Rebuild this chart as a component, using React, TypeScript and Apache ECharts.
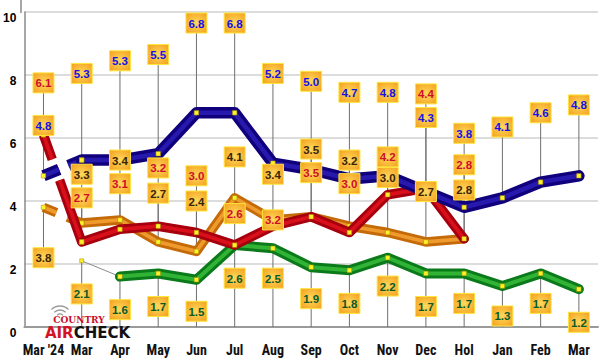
import React, { useEffect, useRef } from "react";
import * as echarts from "echarts";

// ---------- data ----------
const categories = ["Mar '24", "Mar", "Apr", "May", "Jun", "Jul", "Aug", "Sep", "Oct", "Nov", "Dec", "Hol", "Jan", "Feb", "Mar"];
const blue = [4.8, 5.3, 5.3, 5.5, 6.8, 6.8, 5.2, 5.0, 4.7, 4.8, 4.3, 3.8, 4.1, 4.6, 4.8];
const red = [6.1, 2.7, 3.1, 3.2, 3.0, 2.6, 3.2, 3.5, 3.0, 4.2, 4.4, 2.8, null, null, null];
const orange = [3.8, 3.3, 3.4, 2.7, 2.4, 4.1, 3.4, 3.5, 3.2, 3.0, 2.7, 2.8, null, null, null];
const green = [null, 2.1, 1.6, 1.7, 1.5, 2.6, 2.5, 1.9, 1.8, 2.2, 1.7, 1.7, 1.3, 1.7, 1.2];
const yTicks = [0, 2, 4, 6, 8, 10];

// ---------- label tag placement (axis units, layout only) ----------
const blueTag = [6.4, 8.05, 8.45, 8.65, 9.65, 9.65, 8.05, 7.8, 7.45, 7.45, 6.65, 6.15, 6.35, 6.8, 7.05];
const redTag = [7.75, 4.1, 4.55, 5.05, 4.8, 3.6, 3.4, 4.9, 4.55, 5.4, 7.4, 5.15, null, null, null];
const orangeTag = [2.2, 4.85, 5.3, 4.25, 4.0, 5.4, 4.85, 5.65, 5.3, 4.75, 4.3, 4.35, null, null, null];
const greenTag = [null, 1.05, 0.55, 0.65, 0.5, 1.55, 1.55, 0.9, 0.75, 1.3, 0.65, 0.75, 0.35, 0.75, 0.15];

type Look = {
  values: (number | null)[];
  tags: (number | null)[];
  base: string;
  light: string;
  text: string;
  width: number;
  z: number;
  lead: "thin" | number[];
  toAxis: boolean;
};

const LOOKS: Look[] = [
  { values: green, tags: greenTag, base: "#0b7a1b", light: "#38bd3a", text: "#0a5a28", width: 10, z: 2, lead: "thin", toAxis: true },
  { values: orange, tags: orangeTag, base: "#c56a08", light: "#f4a232", text: "#3a2406", width: 9.5, z: 3, lead: [14, 12, 200], toAxis: false },
  { values: red, tags: redTag, base: "#a6000e", light: "#e3121e", text: "#cf0f2a", width: 9.5, z: 4, lead: [26, 22, 300], toAxis: false },
  { values: blue, tags: blueTag, base: "#11007c", light: "#2b1db6", text: "#1212e8", width: 11.5, z: 5, lead: [17, 10, 200], toAxis: false },
];

const LABEL_FONT = '"Liberation Sans", Arial, sans-serif';

function buildOption() {
  const series: any[] = [];

  // leader lines
  const leaderData: number[][] = [];
  LOOKS.forEach((s) => {
    s.values.forEach((v, i) => {
      if (v == null) return;
      const t = s.tags[i];
      if (s.toAxis) leaderData.push([i, v, 0]);
      else if (t != null) leaderData.push([i, t, v]);
    });
  });
  series.push({
    type: "custom",
    z: 1,
    silent: true,
    data: leaderData,
    encode: { x: 0, y: [1, 2] },
    renderItem: (_p: any, api: any) => {
      const a = api.coord([api.value(0), api.value(1)]);
      const b = api.coord([api.value(0), api.value(2)]);
      return {
        type: "line",
        shape: { x1: a[0], y1: a[1], x2: b[0], y2: b[1] },
        style: { stroke: "#6f6f6f", lineWidth: 1 },
      };
    },
  });

  const marker = { color: "#fff22a", borderColor: "#9c8a00", borderWidth: 0.5 };

  LOOKS.forEach((s) => {
    const first = s.values.findIndex((v) => v != null);
    const start = first + 1;
    const lead = s.values.map((v, i) => (i <= start ? v : null));
    const main = s.values.map((v, i) => (i >= start ? v : null));

    if (s.lead === "thin") {
      series.push({
        type: "line", data: lead, z: s.z, silent: true,
        symbol: "rect", symbolSize: 4, showSymbol: true, itemStyle: marker,
        lineStyle: { color: "#8c8c8c", width: 1 },
      });
    } else {
      series.push({
        type: "line", data: lead, z: s.z, silent: true, symbol: "none",
        lineStyle: { color: s.base, width: s.width, type: s.lead, cap: "butt", join: "round" },
      });
      series.push({
        type: "line", data: lead, z: s.z, silent: true,
        symbol: "rect", symbolSize: 4.5, showSymbol: true, itemStyle: marker,
        lineStyle: { color: s.light, width: s.width * 0.4, type: s.lead, cap: "butt", join: "round", opacity: 0.85 },
      });
    }
    series.push({
      type: "line", data: main, z: s.z, silent: true, symbol: "none",
      lineStyle: { color: s.base, width: s.width, cap: "round", join: "round" },
    });
    series.push({
      type: "line", data: main, z: s.z, silent: true,
      symbol: "rect", symbolSize: 4.5, showSymbol: true, itemStyle: marker,
      lineStyle: { color: s.light, width: s.width * 0.4, cap: "round", join: "round", opacity: 0.85 },
    });
  });

  // value tags
  const tagData: number[][] = [];
  LOOKS.forEach((s, k) =>
    s.values.forEach((v, i) => {
      const t = s.tags[i];
      if (v != null && t != null) tagData.push([i, t, v, k]);
    })
  );
  series.push({
    type: "custom",
    z: 10,
    silent: true,
    data: tagData,
    encode: { x: 0, y: 1 },
    renderItem: (_p: any, api: any) => {
      const c = api.coord([api.value(0), api.value(1)]);
      const v = Number(api.value(2));
      const k = Number(api.value(3));
      return {
        type: "group",
        children: [
          {
            type: "rect",
            shape: { x: c[0] - 10.5, y: c[1] - 10, width: 21, height: 20 },
            style: {
              fill: new echarts.graphic.RadialGradient(0.5, 0.5, 0.75, [
                { offset: 0, color: "#ffd95c" },
                { offset: 1, color: "#f29a18" },
              ]),
              stroke: "#ffe43c",
              lineWidth: 1,
            },
          },
          {
            type: "text",
            style: {
              text: v.toFixed(1),
              x: c[0],
              y: c[1] + 0.5,
              align: "center",
              verticalAlign: "middle",
              fill: LOOKS[k].text,
              font: `bold 11.5px ${LABEL_FONT}`,
            },
          },
        ],
      };
    },
  });

  const arcs = [4, 8, 12].map((r) => ({
    type: "arc",
    shape: { cx: 60, cy: 318, r, startAngle: -Math.PI * 0.75, endAngle: -Math.PI * 0.25, clockwise: true },
    style: { stroke: "#9a9a9a", lineWidth: 1.4, fill: null },
    z: 20,
  }));

  return {
    animation: false,
    backgroundColor: "#ffffff",
    grid: { left: 21, right: 2, top: 12, bottom: 33 },
    xAxis: {
      type: "category",
      data: categories,
      boundaryGap: true,
      axisTick: { show: false },
      axisLine: { lineStyle: { color: "#9a9a9a", width: 2 } },
      axisLabel: {
        color: "#111",
        fontWeight: "bold",
        fontSize: 14,
        margin: 16,
        interval: 0,
        fontFamily: '"Liberation Sans Narrow", "Roboto Condensed", "Liberation Sans", Arial, sans-serif',
      },
    },
    yAxis: {
      type: "value",
      min: yTicks[0],
      max: yTicks[yTicks.length - 1],
      interval: yTicks[1] - yTicks[0],
      axisLine: { show: true, lineStyle: { color: "#8a8a8a", width: 1.5 } },
      axisTick: { show: false },
      splitLine: { lineStyle: { color: "#dcdcdc", width: 2 } },
      axisLabel: {
        color: "#000",
        fontWeight: "bold",
        fontSize: 12,
        margin: 8,
        verticalAlign: "top",
        fontFamily: LABEL_FONT,
      },
    },
    graphic: [
      { type: "line", shape: { x1: 21, y1: 0, x2: 21, y2: 13 }, style: { stroke: "#8a8a8a", lineWidth: 1.5 }, z: 0 },
      ...arcs,
      {
        type: "text",
        x: 79,
        y: 319.5,
        z: 20,
        style: {
          text: "COUNTRY",
          align: "center",
          verticalAlign: "middle",
          fill: "#c8102e",
          font: 'bold 9px "DejaVu Serif", serif',
        },
      },
      {
        type: "text",
        x: 87.5,
        y: 333,
        z: 20,
        style: {
          text: "{a|AIR}{b|CHECK}",
          align: "center",
          verticalAlign: "middle",
          font: 'bold 15px "DejaVu Sans", sans-serif',
          rich: {
            a: { fill: "#d21426", fontSize: 15, fontWeight: "bold", fontFamily: '"DejaVu Sans", sans-serif', lineHeight: 15 },
            b: { fill: "#111111", fontSize: 15, fontWeight: "bold", fontFamily: '"DejaVu Sans", sans-serif', lineHeight: 15 },
          },
        },
      },
    ],
    series,
  };
}

export default function App() {
  const ref = useRef<HTMLDivElement>(null);
  useEffect(() => {
    document.body.style.margin = "0";
    if (!ref.current) return;
    const chart = echarts.init(ref.current, undefined, { renderer: "svg" });
    chart.setOption(buildOption() as any);
    return () => chart.dispose();
  }, []);
  return <div ref={ref} style={{ width: 600, height: 360 }} />;
}
